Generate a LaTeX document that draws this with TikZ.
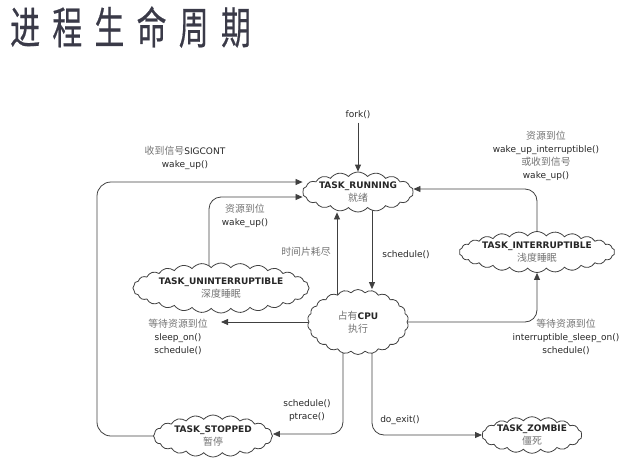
\documentclass[tikz,border=0pt]{standalone}
\usepackage{fontspec}
\setmainfont{DejaVu Sans}
\newfontfamily\cjk[Scale=1.1]{Noto Sans CJK SC}
\newfontfamily\titlefont[FakeBold=0.5]{Noto Sans CJK SC}
\usepackage{xcolor}
\usetikzlibrary{arrows.meta,positioning,shapes.symbols,backgrounds}
\definecolor{ink}{HTML}{3A3A48}
\newcommand{\zh}[1]{{\cjk\color{black!55}#1}}

\begin{document}
\begin{tikzpicture}[x=1pt,y=-1pt, font=\fontsize{9}{13}\selectfont, text=black!85, st/.style={cloud,cloud puffs=#1,cloud puff arc=100,cloud ignores aspect,draw=black!75,fill=white,line width=0.8pt,align=center,inner sep=0pt}, lbl/.style={align=center}, arr/.style={-{Triangle[length=7pt,width=6pt]},draw=black!75,line width=0.8pt}]
\useasboundingbox (0,0) rectangle (640,461);
\node[anchor=west,inner sep=0pt,text=ink,font=\titlefont\fontsize{44}{44}\selectfont] (title) at (10,27) {\scalebox{0.68}[1]{进\hspace{18pt}程\hspace{18pt}生\hspace{18pt}命\hspace{18pt}周\hspace{18pt}期}};
\node[st=18,minimum width=102,minimum height=40] (run) at (358,192) {\textbf{TASK\_RUNNING}\\\zh{就绪}};
\node[st=22,minimum width=101,minimum height=65] (cpu) at (358,322) {\zh{占有}\textbf{CPU}\\\zh{执行}};
\node[st=28,minimum width=173,minimum height=50] (unint) at (221,288) {\textbf{TASK\_UNINTERRUPTIBLE}\\\zh{深度睡眠}};
\node[st=26,minimum width=153,minimum height=41] (int) at (537,252) {\textbf{TASK\_INTERRUPTIBLE}\\\zh{浅度睡眠}};
\node[st=20,minimum width=119,minimum height=42] (stop) at (213,436) {\textbf{TASK\_STOPPED}\\\zh{暂停}};
\node[st=18,minimum width=100,minimum height=32] (zom) at (532,435) {\textbf{TASK\_ZOMBIE}\\\zh{僵死}};
\node (fork) at (358,115) {fork()};
\node[lbl] (sig) at (185,158) {\zh{收到信号}SIGCONT\\wake\_up()};
\node[lbl] (res) at (245,216) {\zh{资源到位}\\wake\_up()};
\node[lbl] (wakeint) at (546,156) {\zh{资源到位}\\wake\_up\_interruptible()\\\zh{或收到信号}\\wake\_up()};
\node (slice) at (306,252) {\zh{时间片耗尽}};
\node (sched) at (406,255) {schedule()};
\node[lbl] (sleep) at (178,337) {\zh{等待资源到位}\\sleep\_on()\\schedule()};
\node[lbl] (isleep) at (566,337) {\zh{等待资源到位}\\interruptible\_sleep\_on()\\schedule()};
\node[lbl] (trace) at (307,411) {schedule()\\ptrace()};
\node (exit) at (400,420) {do\_exit()};
\coordinate (lft) at (97,182);
\begin{scope}[on background layer]
\draw[arr] (fork) -- (run);
\draw[arr] ([xshift=14pt]run.center) -- ([xshift=14pt]run.center |- cpu.north);
\draw[arr] ([xshift=-21pt]cpu.center) -- ([xshift=-21pt]cpu.center |- run.south);
\draw[arr,rounded corners=12pt] ([xshift=-12pt]unint.center) |- ([yshift=-5pt]run.west);
\draw[arr,rounded corners=14pt] (stop.center) -| (lft) -- ([yshift=10pt]run.west);
\draw[arr,rounded corners=12pt] (int.center) |- ([yshift=3pt]run.east);
\draw[arr] (cpu.center) -- (cpu.center -| unint.south);
\draw[arr,rounded corners=12pt] (cpu.center) -| (int.south);
\draw[arr,rounded corners=12pt] ([xshift=-15pt]cpu.center) |- ([yshift=2pt]stop.east);
\draw[arr,rounded corners=12pt] ([xshift=14pt]cpu.center) |- (zom.west);
\end{scope}
\end{tikzpicture}
\end{document}
